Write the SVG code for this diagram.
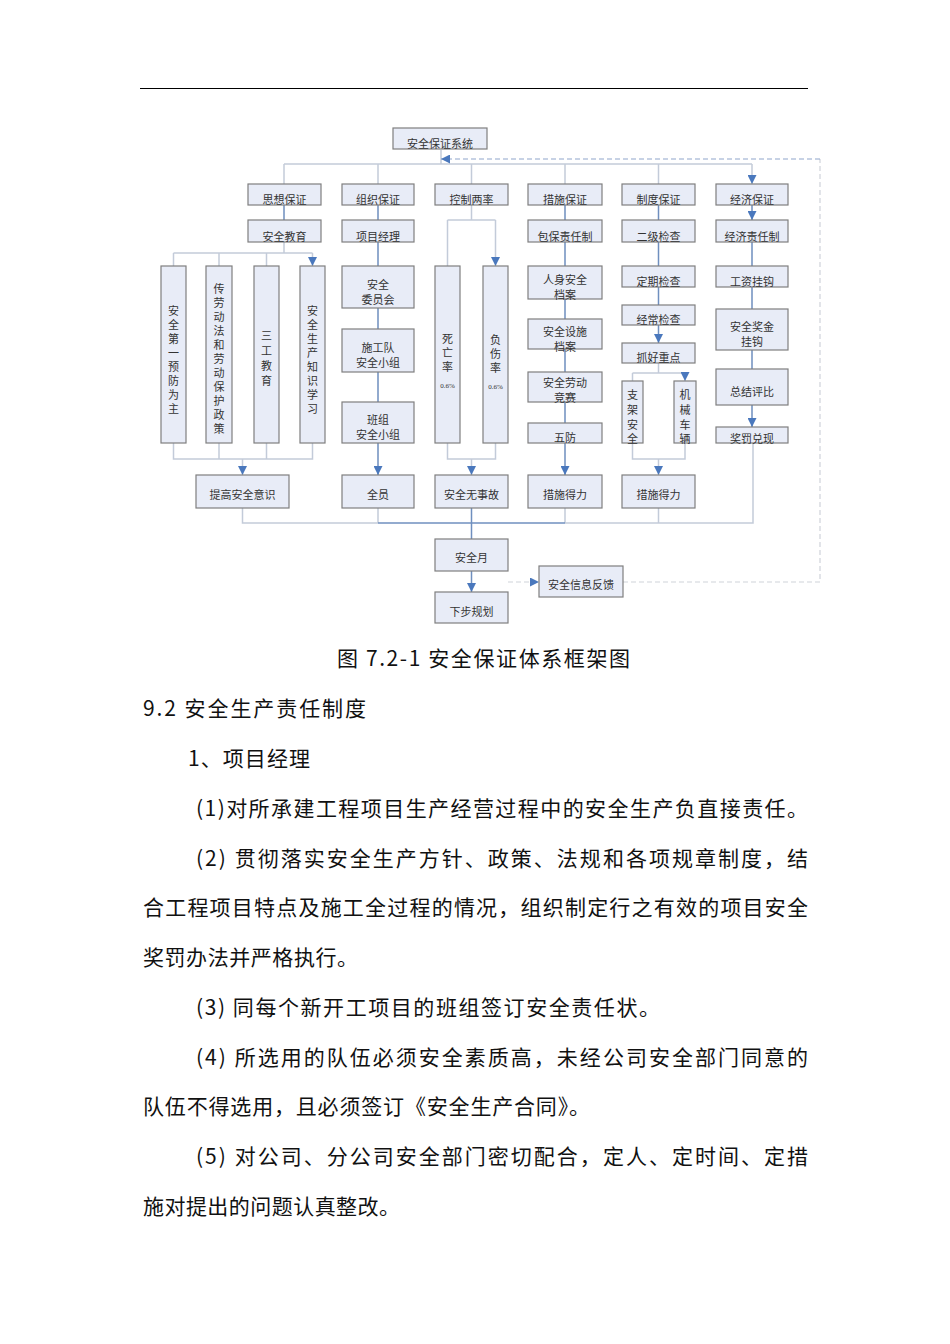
<svg xmlns="http://www.w3.org/2000/svg" width="950" height="1344" viewBox="0 0 950 1344">
<style>
.b{fill:#e8ecf7;stroke:#7f7f7f;stroke-width:1.2}
.t{font-family:"Noto Sans CJK SC","Noto Sans",sans-serif;font-size:11px;fill:#333;text-anchor:middle}
.s{font-family:"Liberation Serif",serif;font-size:7px;fill:#333;text-anchor:middle}
.p{font-family:"Noto Sans CJK SC","Noto Sans",sans-serif;font-size:21px;fill:#111}
.l{fill:none;stroke:#c3cbd9;stroke-width:1.5}
.d{fill:none;stroke:#6f8fbf;stroke-width:1.5}
.a{marker-end:url(#ar)}
.dash1{fill:none;stroke:#8fa6cc;stroke-width:1.2;stroke-dasharray:5,3}
.dash2{fill:none;stroke:#cfd3da;stroke-width:1.2;stroke-dasharray:5,3}
</style>
<defs>
<marker id="ar" viewBox="0 0 10 10" refX="10" refY="5" markerUnits="userSpaceOnUse" markerWidth="9" markerHeight="9" orient="auto">
<path d="M0,0 L10,5 L0,10 z" fill="#4a78bd"/>
</marker>
</defs>
<rect width="950" height="1344" fill="#fff"/>
<line x1="140" y1="88.5" x2="808" y2="88.5" stroke="#000" stroke-width="1"/>

<g id="connectors">
<path class="l" d="M441,150 V164 M284,164 H752"/>
<path class="l a" d="M284,164 V184 M378,164 V184 M471.5,164 V184 M565,164 V184 M658.5,164 V184 M752,164 V184"/>
<path class="d a" d="M284,205 V220 M378,205 V220 M565,205 V220 M658.5,205 V220 M752,205 V220"/>
<path class="l" d="M471.5,205 V220 M447.5,220 H495.5"/>
<path class="l a" d="M447.5,220 V266 M495.5,220 V266"/>
<path class="l" d="M284,242 V253 M173.5,253 H312.5"/>
<path class="l a" d="M173.5,253 V266 M219,253 V266 M266.5,253 V266 M312.5,253 V266"/>
<path class="d a" d="M378,242 V266 M378,308 V329 M378,372 V402 M378,443 V475"/>
<path class="d a" d="M565,242 V266 M565,299 V319 M565,349 V372 M565,402 V423 M565,443 V475"/>
<path class="d a" d="M658.5,242 V266 M658.5,287 V305 M658.5,325 V343"/>
<path class="l" d="M658.5,363 V373 M632.5,373 H685"/>
<path class="l a" d="M632.5,373 V381 M685,373 V381"/>
<path class="l" d="M632.5,443 V459 H685 V443"/>
<path class="l a" d="M658.5,459 V475"/>
<path class="d a" d="M752,242 V266 M752,287 V309 M752,350 V369 M752,405 V427"/>
<path class="l" d="M173.5,443 V459 H312.5 V443 M219,443 V459 M266.5,443 V459"/>
<path class="l a" d="M242.5,459 V475"/>
<path class="l" d="M447.5,443 V459 H495.5 V443"/>
<path class="l a" d="M471.5,459 V475"/>
<path class="l" d="M242.5,508 V523 H378 M378,508 V523 M565,508 V523 M658.5,508 V523 M753,443 V523 H565"/>
<path class="d" d="M378,523 H565"/>
<path class="d a" d="M471.5,508 V539 M471.5,571 V592"/>
<path class="dash2 a" d="M508,582 H539"/>
<path class="dash2" d="M623,582 H820 V159"/>
<path class="dash1 a" d="M820,159 H441"/>
</g>

<g id="n-top"><rect class="b" x="393" y="128" width="94" height="21"/><text class="t" x="440" y="148">安全保证系统</text></g>

<g id="n-sixiang"><rect class="b" x="248" y="184" width="73" height="21"/><text class="t" x="284.5" y="204">思想保证</text></g>
<g id="n-zuzhi"><rect class="b" x="342" y="184" width="72" height="21"/><text class="t" x="378" y="204">组织保证</text></g>
<g id="n-kongzhi"><rect class="b" x="435" y="184" width="73" height="21"/><text class="t" x="471.5" y="204">控制两率</text></g>
<g id="n-cuoshi"><rect class="b" x="528" y="184" width="74" height="21"/><text class="t" x="565" y="204">措施保证</text></g>
<g id="n-zhidu"><rect class="b" x="622" y="184" width="73" height="21"/><text class="t" x="658.5" y="204">制度保证</text></g>
<g id="n-jingji"><rect class="b" x="716" y="184" width="72" height="21"/><text class="t" x="752" y="204">经济保证</text></g>

<g id="n-jiaoyu"><rect class="b" x="248" y="220" width="73" height="22"/><text class="t" x="284.5" y="241">安全教育</text></g>
<g id="n-xmjl"><rect class="b" x="342" y="220" width="72" height="22"/><text class="t" x="378" y="241">项目经理</text></g>
<g id="n-baobao"><rect class="b" x="528" y="220" width="74" height="22"/><text class="t" x="565" y="241">包保责任制</text></g>
<g id="n-erji"><rect class="b" x="622" y="220" width="73" height="22"/><text class="t" x="658.5" y="241">二级检查</text></g>
<g id="n-jjzr"><rect class="b" x="716" y="220" width="72" height="22"/><text class="t" x="752" y="241">经济责任制</text></g>

<g id="n-aqdy"><rect class="b" x="161" y="266" width="25" height="177"/><text class="t"><tspan x="173.5" y="315">安</tspan><tspan x="173.5" y="329">全</tspan><tspan x="173.5" y="343">第</tspan><tspan x="173.5" y="357">一</tspan><tspan x="173.5" y="371">预</tspan><tspan x="173.5" y="385">防</tspan><tspan x="173.5" y="399">为</tspan><tspan x="173.5" y="413">主</tspan></text></g>
<g id="n-chuan"><rect class="b" x="206" y="266" width="26" height="177"/><text class="t"><tspan x="219" y="293">传</tspan><tspan x="219" y="307">劳</tspan><tspan x="219" y="321">动</tspan><tspan x="219" y="335">法</tspan><tspan x="219" y="349">和</tspan><tspan x="219" y="363">劳</tspan><tspan x="219" y="377">动</tspan><tspan x="219" y="391">保</tspan><tspan x="219" y="405">护</tspan><tspan x="219" y="419">政</tspan><tspan x="219" y="433">策</tspan></text></g>
<g id="n-sangong"><rect class="b" x="254" y="266" width="25" height="177"/><text class="t"><tspan x="266.5" y="340">三</tspan><tspan x="266.5" y="355">工</tspan><tspan x="266.5" y="370">教</tspan><tspan x="266.5" y="385">育</tspan></text></g>
<g id="n-zhishi"><rect class="b" x="300" y="266" width="25" height="177"/><text class="t"><tspan x="312.5" y="315">安</tspan><tspan x="312.5" y="329">全</tspan><tspan x="312.5" y="343">生</tspan><tspan x="312.5" y="357">产</tspan><tspan x="312.5" y="371">知</tspan><tspan x="312.5" y="385">识</tspan><tspan x="312.5" y="399">学</tspan><tspan x="312.5" y="413">习</tspan></text></g>

<g id="n-weiyuan"><rect class="b" x="342" y="266" width="72" height="42"/><text class="t"><tspan x="378" y="289">安全</tspan><tspan x="378" y="304">委员会</tspan></text></g>
<g id="n-shigong"><rect class="b" x="342" y="329" width="72" height="43"/><text class="t"><tspan x="378" y="352">施工队</tspan><tspan x="378" y="367">安全小组</tspan></text></g>
<g id="n-banzu"><rect class="b" x="342" y="402" width="72" height="41"/><text class="t"><tspan x="378" y="424">班组</tspan><tspan x="378" y="439">安全小组</tspan></text></g>

<g id="n-siwang"><rect class="b" x="435" y="266" width="25" height="177"/><text class="t"><tspan x="447.5" y="343">死</tspan><tspan x="447.5" y="357">亡</tspan><tspan x="447.5" y="371">率</tspan></text><text class="s" x="447.5" y="388">0.6%</text></g>
<g id="n-fushang"><rect class="b" x="483" y="266" width="25" height="177"/><text class="t"><tspan x="495.5" y="344">负</tspan><tspan x="495.5" y="358">伤</tspan><tspan x="495.5" y="372">率</tspan></text><text class="s" x="495.5" y="389">0.6%</text></g>

<g id="n-renshen"><rect class="b" x="528" y="266" width="74" height="33"/><text class="t"><tspan x="565" y="284">人身安全</tspan><tspan x="565" y="299">档案</tspan></text></g>
<g id="n-sheshi"><rect class="b" x="528" y="319" width="74" height="30"/><text class="t"><tspan x="565" y="336">安全设施</tspan><tspan x="565" y="351">档案</tspan></text></g>
<g id="n-laodong"><rect class="b" x="528" y="372" width="74" height="30"/><text class="t"><tspan x="565" y="387">安全劳动</tspan><tspan x="565" y="402">竞赛</tspan></text></g>
<g id="n-wufang"><rect class="b" x="528" y="423" width="74" height="20"/><text class="t" x="565" y="442">五防</text></g>

<g id="n-dingqi"><rect class="b" x="622" y="266" width="73" height="21"/><text class="t" x="658.5" y="286">定期检查</text></g>
<g id="n-jingchang"><rect class="b" x="622" y="305" width="73" height="20"/><text class="t" x="658.5" y="324">经常检查</text></g>
<g id="n-zhuahao"><rect class="b" x="622" y="343" width="73" height="20"/><text class="t" x="658.5" y="362">抓好重点</text></g>
<g id="n-zhijia"><rect class="b" x="622" y="381" width="21" height="62"/><text class="t"><tspan x="632.5" y="399">支</tspan><tspan x="632.5" y="414">架</tspan><tspan x="632.5" y="429">安</tspan><tspan x="632.5" y="443">全</tspan></text></g>
<g id="n-jixie"><rect class="b" x="674" y="381" width="22" height="62"/><text class="t"><tspan x="685" y="399">机</tspan><tspan x="685" y="414">械</tspan><tspan x="685" y="429">车</tspan><tspan x="685" y="443">辆</tspan></text></g>

<g id="n-gongzi"><rect class="b" x="716" y="266" width="72" height="21"/><text class="t" x="752" y="286">工资挂钩</text></g>
<g id="n-jiangjin"><rect class="b" x="716" y="309" width="72" height="41"/><text class="t"><tspan x="752" y="331">安全奖金</tspan><tspan x="752" y="346">挂钩</tspan></text></g>
<g id="n-zongjie"><rect class="b" x="716" y="369" width="72" height="36"/><text class="t" x="752" y="396">总结评比</text></g>
<g id="n-jiangfa"><rect class="b" x="716" y="427" width="72" height="16"/><text class="t" x="752" y="443">奖罚兑现</text></g>

<g id="n-tigao"><rect class="b" x="196" y="475" width="93" height="33"/><text class="t" x="242.5" y="499">提高安全意识</text></g>
<g id="n-quanyuan"><rect class="b" x="342" y="475" width="72" height="33"/><text class="t" x="378" y="499">全员</text></g>
<g id="n-wushigu"><rect class="b" x="435" y="475" width="73" height="33"/><text class="t" x="471.5" y="499">安全无事故</text></g>
<g id="n-deli1"><rect class="b" x="528" y="475" width="74" height="33"/><text class="t" x="565" y="499">措施得力</text></g>
<g id="n-deli2"><rect class="b" x="622" y="475" width="73" height="33"/><text class="t" x="658.5" y="499">措施得力</text></g>

<g id="n-anquanyue"><rect class="b" x="435" y="539" width="73" height="32"/><text class="t" x="471.5" y="562">安全月</text></g>
<g id="n-xiabu"><rect class="b" x="435" y="592" width="73" height="31"/><text class="t" x="471.5" y="616">下步规划</text></g>
<g id="n-fankui"><rect class="b" x="539" y="566" width="84" height="31"/><text class="t" x="581" y="589">安全信息反馈</text></g>

<g id="body">
<text class="p" x="337" y="666" textLength="293" lengthAdjust="spacing">图 7.2-1 安全保证体系框架图</text>
<text class="p" x="143" y="716" textLength="223" lengthAdjust="spacing">9.2 安全生产责任制度</text>
<text class="p" x="188" y="766" textLength="122" lengthAdjust="spacing">1、项目经理</text>
<text class="p" x="196" y="816" textLength="612" lengthAdjust="spacing">(1)对所承建工程项目生产经营过程中的安全生产负直接责任。</text>
<text class="p" x="196" y="866" textLength="612" lengthAdjust="spacing">(2) 贯彻落实安全生产方针、政策、法规和各项规章制度，结</text>
<text class="p" x="143" y="915" textLength="665" lengthAdjust="spacing">合工程项目特点及施工全过程的情况，组织制定行之有效的项目安全</text>
<text class="p" x="143" y="965" textLength="215" lengthAdjust="spacing">奖罚办法并严格执行。</text>
<text class="p" x="196" y="1015" textLength="464" lengthAdjust="spacing">(3) 同每个新开工项目的班组签订安全责任状。</text>
<text class="p" x="196" y="1065" textLength="612" lengthAdjust="spacing">(4) 所选用的队伍必须安全素质高，未经公司安全部门同意的</text>
<text class="p" x="143" y="1114" textLength="447" lengthAdjust="spacing">队伍不得选用，且必须签订《安全生产合同》。</text>
<text class="p" x="196" y="1164" textLength="612" lengthAdjust="spacing">(5) 对公司、分公司安全部门密切配合，定人、定时间、定措</text>
<text class="p" x="143" y="1214" textLength="257" lengthAdjust="spacing">施对提出的问题认真整改。</text>
</g>
</svg>
